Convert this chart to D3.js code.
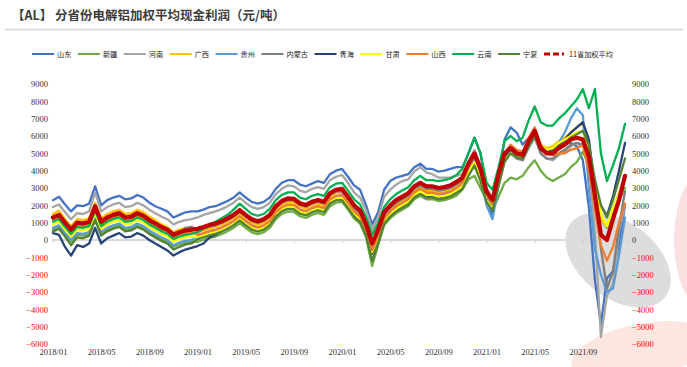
<!DOCTYPE html>
<html><head><meta charset="utf-8">
<script src="https://cdn.jsdelivr.net/npm/d3@7"></script>
<style>
html,body{margin:0;padding:0;background:#fff;}
svg{display:block;}
</style></head>
<body>
<svg id="c" width="687" height="367"></svg>
<script>
// ---- data (semi-monthly samples, 2018/01 .. 2021/12) ----
const xLabels = ["2018/01","2018/05","2018/09","2019/01","2019/05","2019/09","2020/01","2020/05","2020/09","2021/01","2021/05","2021/09"];
const yTicks = [9000,8000,7000,6000,5000,4000,3000,2000,1000,0,-1000,-2000,-3000,-4000,-5000,-6000];
const seriesNames = ["山东","新疆","河南","广西","贵州","内蒙古","青海","甘肃","山西","云南","宁夏","11省加权平均"];
const seriesColors = ["#4472C4","#70AD47","#A5A5A5","#FFC000","#5B9BD5","#7F7F7F","#264478","#FFFF00","#ED7D31","#00B050","#548235","#C00000"];

const shandong = [2300,2500,2050,1650,2000,1950,2100,3100,2000,2300,2450,2550,2350,2400,2600,2450,2150,1950,1800,1650,1300,1450,1600,1650,
 1650,1750,1900,1950,2100,2250,2450,2750,2450,2200,2100,2200,2450,2950,3300,3450,3450,3200,3100,3250,3400,3300,3800,4000,
 4100,3650,3150,2900,2000,900,1600,2900,3400,3600,3700,3800,4200,4400,4100,4100,3950,4000,4100,4200,4200,5000,5900,5000,
 2500,1400,3600,5800,6500,6200,5500,5900,6300,5400,5100,5100,5400,5700,5600,5400,4600,1900,-2300,-4900,-2200,-1800,-200,2000];
const xinjiang = [600,750,300,-100,300,250,350,1250,350,600,750,850,600,650,850,700,450,250,50,-100,-400,-250,-150,-100,
 -100,0,120,200,330,500,700,980,700,450,330,450,700,1200,1500,1650,1630,1370,1270,1450,1560,1450,1950,2150,
 2200,1750,1250,950,150,-1500,-300,850,1250,1550,1750,1950,2350,2550,2350,2350,2250,2300,2400,2550,2900,3500,3700,3000,
 2300,1700,2500,3300,3600,3500,3700,4200,4600,4000,3600,3400,3600,3800,4200,4500,5100,4300,2800,1200,700,1500,2300,3000];
const henan = [1900,2050,1600,1200,1550,1500,1650,2750,1650,1900,2050,2150,1900,1950,2150,2000,1750,1550,1350,1200,900,1050,1150,1200,
 1300,1450,1550,1650,1780,1950,2150,2450,2150,1900,1800,1900,2150,2650,2950,3150,3100,2850,2750,2950,3050,2950,3450,3650,
 3750,3300,2750,2450,1700,600,1300,2500,2900,3200,3400,3500,3950,4200,3900,3800,3600,3600,3600,3700,3800,4500,5200,4300,
 3000,2300,3700,4900,5200,4800,4600,5300,5900,5000,4700,4600,4900,5100,5400,5600,5400,4500,500,-5600,-3200,-2500,500,2000];
const guangxi = [1500,1700,1200,800,1200,1150,1250,2150,1250,1500,1650,1750,1500,1550,1750,1600,1350,1150,900,750,450,600,700,700,
 450,550,650,750,880,1050,1250,1500,1250,1000,880,1000,1250,1750,2050,2200,2180,1920,1820,2000,2100,2000,2500,2700,
 2700,2250,1750,1450,650,-400,300,1350,1750,2050,2250,2450,2850,3050,2850,2850,2750,2800,2900,3100,3400,4200,4800,3900,
 2500,2000,3600,4900,5300,5100,5000,5800,6400,5500,5300,5400,5700,5900,6200,6500,6700,5200,3300,1200,800,1800,2700,3600];
const guizhou = [700,850,400,0,400,350,450,1350,450,700,850,950,700,750,950,800,550,350,150,0,-300,-150,-50,0,
 200,300,420,500,630,800,1000,1280,1000,750,630,750,1000,1500,1800,1950,1930,1670,1570,1750,1860,1750,2250,2450,
 2550,2100,1600,1300,500,-700,100,1200,1600,1900,2100,2300,2700,2900,2700,2700,2600,2650,2750,2950,3200,4000,4600,3700,
 2000,1200,3200,4700,5200,4900,4800,5500,6100,5200,5000,5100,5600,6200,7000,7600,7200,3000,-500,-2000,-3000,-2800,-900,1300];
const neimenggu = [1200,1350,900,500,900,850,950,1850,950,1200,1350,1450,1200,1250,1450,1300,1050,850,650,500,200,350,700,750,
 550,650,770,850,980,1150,1350,1630,1350,1100,980,1100,1350,1850,2150,2300,2280,2020,1920,2100,2210,2100,2600,2800,
 2800,2350,1850,1550,750,-350,450,1450,1850,2150,2350,2550,2950,3150,2950,2950,2850,2900,3000,3200,3450,4250,4850,3950,
 2500,2000,3500,4700,5000,4700,4600,5400,6000,5000,4700,4700,5000,5200,5500,5600,5500,4500,2200,-500,-2800,-1800,800,2800];
const qinghai = [400,300,-400,-900,-300,-400,-200,700,-200,100,250,400,150,200,400,250,0,-200,-400,-600,-900,-700,-550,-450,
 -350,-200,150,300,500,700,900,1200,900,650,550,650,900,1400,1700,1850,1830,1570,1470,1650,1760,1650,2150,2350,
 2400,1950,1450,1150,350,-800,0,1050,1450,1750,1950,2150,2550,2750,2550,2550,2450,2500,2600,2800,3050,3900,4500,3600,
 2300,1700,3400,4800,5300,5000,4900,5700,6200,5300,5100,5200,5500,5800,6200,6500,6800,5800,3000,2000,1400,2500,4000,5600];
const gansu = [900,1050,600,200,600,550,650,1550,650,900,1050,1150,900,950,1150,1000,750,550,350,200,-100,50,150,200,
 150,250,370,450,580,750,950,1230,950,700,580,700,950,1450,1750,1900,1880,1620,1520,1700,1810,1700,2200,2400,
 2450,2000,1500,1200,400,-700,100,1100,1500,1800,2000,2200,2600,2800,2600,2600,2500,2550,2650,2850,3100,3900,4500,3600,
 2300,1800,3300,4600,5000,4800,4800,5600,6200,5400,5200,5300,5600,5800,6000,6200,6300,5300,3300,1500,800,1800,2600,3600];
const shanxi = [1150,1300,850,450,850,800,900,1800,900,1150,1300,1400,1150,1200,1400,1250,1000,800,600,450,150,300,400,450,
 300,400,520,600,730,900,1100,1380,1100,850,730,850,1100,1600,1900,2050,2030,1770,1670,1850,1960,1850,2350,2550,
 2600,2150,1650,1350,550,-600,200,1250,1650,1950,2150,2350,2750,2950,2750,2750,2650,2700,2800,3000,3300,4200,4900,4000,
 2700,2100,3700,5000,5500,5200,5100,5900,6500,5500,5000,4900,5000,5000,5200,5300,5500,4000,1800,-300,-1200,-400,1000,2100];
const yunnan = [1050,1200,750,350,750,700,800,1700,800,1050,1200,1300,1050,1100,1300,1150,900,700,500,350,50,200,300,350,
 450,650,900,1050,1250,1450,1750,2100,1800,1500,1400,1500,1800,2300,2600,2750,2750,2450,2350,2550,2650,2550,3050,3250,
 3300,2850,2350,2050,1300,300,1000,1900,2350,2650,2850,3050,3450,3700,3450,3450,3400,3450,3550,3750,4100,5000,5900,5000,
 3300,2900,4200,5700,6000,5700,5900,6900,7700,6800,6600,6600,7000,7300,7700,8100,8700,7600,8700,5000,3400,4300,5300,6700];
const ningxia = [500,650,200,-300,150,100,250,1150,250,500,650,750,500,550,750,600,350,150,-50,-200,-550,-400,-250,-200,
 50,150,270,350,480,650,850,1130,850,600,480,600,850,1350,1650,1800,1780,1520,1420,1600,1710,1600,2100,2300,
 2300,1850,1350,1050,250,-1200,-200,950,1350,1650,1850,2050,2450,2650,2450,2450,2350,2400,2500,2700,2950,3700,4300,3400,
 2200,1700,3100,4500,5000,4800,4700,5400,6000,5200,5000,5100,5400,5600,5900,6100,6300,5500,3500,2000,1300,2300,3500,4700];
const average11 = [1300,1450,1000,600,1000,950,1050,1950,1050,1300,1450,1550,1300,1350,1550,1400,1150,950,750,600,300,450,550,600,
 650,750,870,950,1080,1250,1450,1730,1450,1200,1080,1200,1450,1950,2250,2400,2380,2120,2020,2200,2310,2200,2700,2900,
 2950,2500,2000,1700,900,-200,600,1600,2000,2300,2500,2700,3100,3300,3100,3100,3000,3050,3150,3350,3600,4400,5000,4100,
 2800,2300,3800,5000,5300,5000,4900,5700,6300,5300,5000,5000,5300,5500,5800,5900,5800,4800,2600,300,0,1200,2300,3700];

const allSeries = [shandong,xinjiang,henan,guangxi,guizhou,neimenggu,qinghai,gansu,shanxi,yunnan,ningxia,average11];
const title = "【AL】 分省份电解铝加权平均现金利润（元/吨）";

// ---- drawing ----
const svg = d3.select("#c");
const n = average11.length;
const x = d3.scaleLinear().domain([0, n - 1]).range([53, 625]);
const y = d3.scaleLinear().domain([-6000, 9000]).range([344, 84]);
const perLabel = 8; // samples per 4 months

// background annotation blobs
svg.append("ellipse").attr("cx", 618).attr("cy", 260).attr("rx", 60).attr("ry", 38)
  .attr("transform", "rotate(38,618,260)").attr("fill", "#d4d4d4").attr("opacity", 0.8);
svg.append("ellipse").attr("cx", 640).attr("cy", 352).attr("rx", 70).attr("ry", 28)
  .attr("transform", "rotate(-12,640,352)").attr("fill", "#fde6df");
svg.append("ellipse").attr("cx", 718).attr("cy", 240).attr("rx", 44).attr("ry", 80)
  .attr("fill", "#fbe0e2");

// title
svg.append("text").attr("x", 12).attr("y", 20).text(title)
  .attr("font-family", "'Noto Sans CJK SC', sans-serif").attr("font-size", 12.5)
  .attr("font-weight", "bold").attr("fill", "#3b3b3b");
svg.append("line").attr("x1", 5).attr("x2", 683).attr("y1", 29.5).attr("y2", 29.5)
  .attr("stroke", "#dcdcdc").attr("stroke-width", 2);

// legend
const lg = svg.append("g");
let lx = 32;
seriesNames.forEach((name, k) => {
  const isAvg = k === seriesNames.length - 1;
  lg.append("line").attr("x1", lx).attr("x2", lx + 22).attr("y1", 54).attr("y2", 54)
    .attr("stroke", seriesColors[k]).attr("stroke-width", isAvg ? 3 : 2)
    .attr("stroke-dasharray", isAvg ? "6,3,6,3,2" : null);
  const t = lg.append("text").attr("x", lx + 25).attr("y", 56.5).text(name)
    .attr("font-family", "'Noto Sans CJK SC', sans-serif").attr("font-size", 7.2).attr("fill", "#222");
  lx += 25 + t.node().getComputedTextLength() + 6.5;
});

// y axes
function styleAxis(g) {
  g.select(".domain").remove();
  g.selectAll("text").attr("font-family", "'Liberation Serif', 'Times New Roman', serif")
    .attr("font-size", 8.5).attr("fill", d => d < 0 ? "#FF0000" : "#333");
}
const fmt = d3.format("d");
svg.append("g").attr("transform", "translate(49,0)")
  .call(d3.axisLeft(y).tickValues(yTicks).tickSize(0).tickPadding(1).tickFormat(fmt)).call(styleAxis);
svg.append("g").attr("transform", "translate(630,0)")
  .call(d3.axisRight(y).tickValues(yTicks).tickSize(0).tickPadding(2).tickFormat(fmt)).call(styleAxis);

// zero axis line with ticks
const tickIdx = xLabels.map((_, k) => k * perLabel);
const zeroAxis = svg.append("g").attr("transform", `translate(0,${y(0)})`)
  .call(d3.axisBottom(x).tickValues(tickIdx.concat([n - 1 + 0.5])).tickSize(3).tickFormat(""));
zeroAxis.select(".domain").attr("d", `M52,0H628`).attr("stroke", "#d9d9d9").attr("stroke-width", 2);
zeroAxis.selectAll(".tick line").attr("stroke", "#cfcfcf");

// x labels (low position)
const xAx = svg.append("g").attr("transform", "translate(0,347)")
  .call(d3.axisBottom(x).tickValues(tickIdx).tickSize(0).tickPadding(2)
    .tickFormat((d, k) => xLabels[k]));
xAx.select(".domain").remove();
xAx.selectAll("text").attr("font-family", "'Liberation Serif', 'Times New Roman', serif")
  .attr("font-size", 8.5).attr("fill", "#333");

// series lines
const line = d3.line().x((d, i) => x(i)).y(d => y(d));
allSeries.forEach((s, k) => {
  const isAvg = k === allSeries.length - 1;
  svg.append("path").datum(s).attr("d", line).attr("fill", "none")
    .attr("stroke", seriesColors[k]).attr("stroke-width", isAvg ? 4.2 : 2.3)
    .attr("stroke-linejoin", "round").attr("stroke-linecap", "round");
});
</script>
</body></html>
